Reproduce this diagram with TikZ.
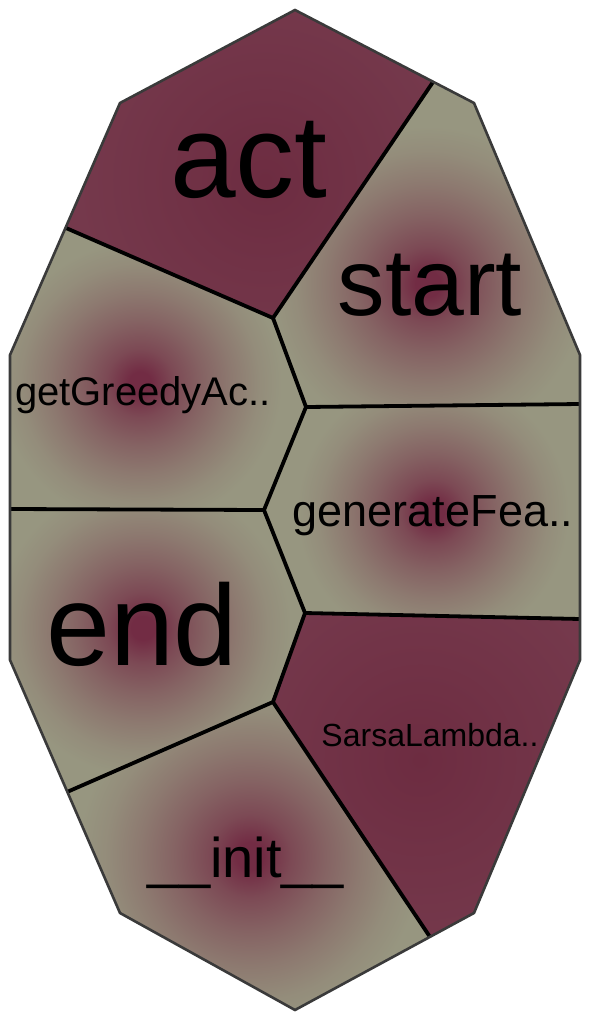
\documentclass[tikz,border=0pt]{standalone}
\usepackage{fontspec}
\setmainfont{Liberation Sans}

\definecolor{greige}{RGB}{151,150,128}
\definecolor{maroon}{RGB}{117,57,76}
\definecolor{glowcore}{RGB}{114,44,68}
\definecolor{maroondeep}{RGB}{109,44,65}
\definecolor{rimgray}{RGB}{58,58,58}

% radial glows
\pgfdeclareradialshading{glowgreige}{\pgfpoint{0bp}{0bp}}{%
  color(0bp)=(glowcore); color(2bp)=(glowcore); color(6bp)=(glowcore!72!greige);
  color(11bp)=(glowcore!48!greige); color(16bp)=(glowcore!27!greige);
  color(21bp)=(glowcore!9!greige); color(25bp)=(greige); color(50bp)=(greige)}
\pgfdeclareradialshading{glowmaroon}{\pgfpoint{0bp}{0bp}}{%
  color(0bp)=(maroondeep); color(12bp)=(maroondeep!50!maroon);
  color(25bp)=(maroon); color(50bp)=(maroon)}

\tikzset{every picture/.style={line width=0.75pt}}
\tikzset{
  cutline/.style={draw=black, line width=3.8pt, line join=round},
  rimline/.style={draw=rimgray, line width=2.6pt, line join=miter},
  celltext/.style={anchor=base, inner sep=0pt, text=black},
}

% #1 cell path, #2 base colour, #3 glow shading, #4 glow centre, #5 glow radius
\newcommand{\glowcell}[5]{%
  \begin{scope}
    \clip #1 -- cycle;
    \fill[#2] (0,0) rectangle (592,1020);
    \shade[shading=#3] #4 circle (#5);
  \end{scope}}

\begin{document}
\begin{tikzpicture}[x=1pt,y=1pt,yscale=-1,xscale=1]
\useasboundingbox (0,0) rectangle (592,1020);

%Outline vertices
\coordinate (T)  at (295,10);
\coordinate (TR) at (474,103);
\coordinate (RU) at (580,355);
\coordinate (RD) at (580,660);
\coordinate (BR) at (474,913);
\coordinate (B)  at (295,1010);
\coordinate (BL) at (120,913);
\coordinate (LD) at (10,660);
\coordinate (LU) at (10,355);
\coordinate (TL) at (120,103);
%Cut points on the outline
\coordinate (A1) at (433,82);
\coordinate (L1) at (66,228);
\coordinate (R1) at (580,404);
\coordinate (L2) at (10,509);
\coordinate (R2) at (580,619);
\coordinate (L3) at (67,792);
\coordinate (B1) at (430,937);
%Inner junctions
\coordinate (P1) at (273,318);
\coordinate (P2) at (306,407);
\coordinate (P3) at (264,510);
\coordinate (P4) at (305,613);
\coordinate (P5) at (273,702);

%Cells
\glowcell{(TL) -- (T) -- (A1) -- (P1) -- (L1)}{maroon}{glowmaroon}{(265,180)}{190}
\glowcell{(A1) -- (TR) -- (RU) -- (R1) -- (P2) -- (P1)}{greige}{glowgreige}{(428,284)}{158}
\glowcell{(L1) -- (P1) -- (P2) -- (P3) -- (L2) -- (LU)}{greige}{glowgreige}{(140,383)}{142}
\glowcell{(P2) -- (R1) -- (R2) -- (P4) -- (P3)}{greige}{glowgreige}{(433,512)}{136}
\glowcell{(L2) -- (P3) -- (P4) -- (P5) -- (L3) -- (LD)}{greige}{glowgreige}{(143,628)}{148}
\glowcell{(P4) -- (R2) -- (RD) -- (BR) -- (B1) -- (P5)}{maroon}{glowmaroon}{(420,760)}{200}
\glowcell{(L3) -- (P5) -- (B1) -- (B) -- (BL)}{greige}{glowgreige}{(250,856)}{172}

%Cuts
\draw[cutline] (A1) -- (P1) -- (L1);
\draw[cutline] (P1) -- (P2) -- (R1);
\draw[cutline] (P2) -- (P3) -- (L2);
\draw[cutline] (P3) -- (P4) -- (R2);
\draw[cutline] (P4) -- (P5) -- (L3);
\draw[cutline] (P5) -- (B1);

%Outline
\draw[rimline] (T) -- (TR) -- (RU) -- (RD) -- (BR) -- (B) -- (BL) -- (LD) -- (LU) -- (TL) -- cycle;

% Text Node
\node[celltext, font=\fontsize{118}{118}\selectfont] (act) at (249,197) {act};
% Text Node
\node[celltext, font=\fontsize{95}{95}\selectfont] (start) at (430,315) {start};
% Text Node
\node[celltext, font=\fontsize{40}{40}\selectfont] (greedy) at (143,405) {getGreedyAc..};
% Text Node
\node[celltext, font=\fontsize{45}{45}\selectfont] (features) at (433,526) {generateFea..};
% Text Node
\node[celltext, font=\fontsize{115}{115}\selectfont] (end) at (142,665) {end};
% Text Node
\node[celltext, font=\fontsize{32}{32}\selectfont] (sarsa) at (430,746) {SarsaLambda..};
% Text Node
\node[celltext, font=\fontsize{56}{56}\selectfont] (init) at (246,877) {\_\_init\_\_};

\end{tikzpicture}
\end{document}
